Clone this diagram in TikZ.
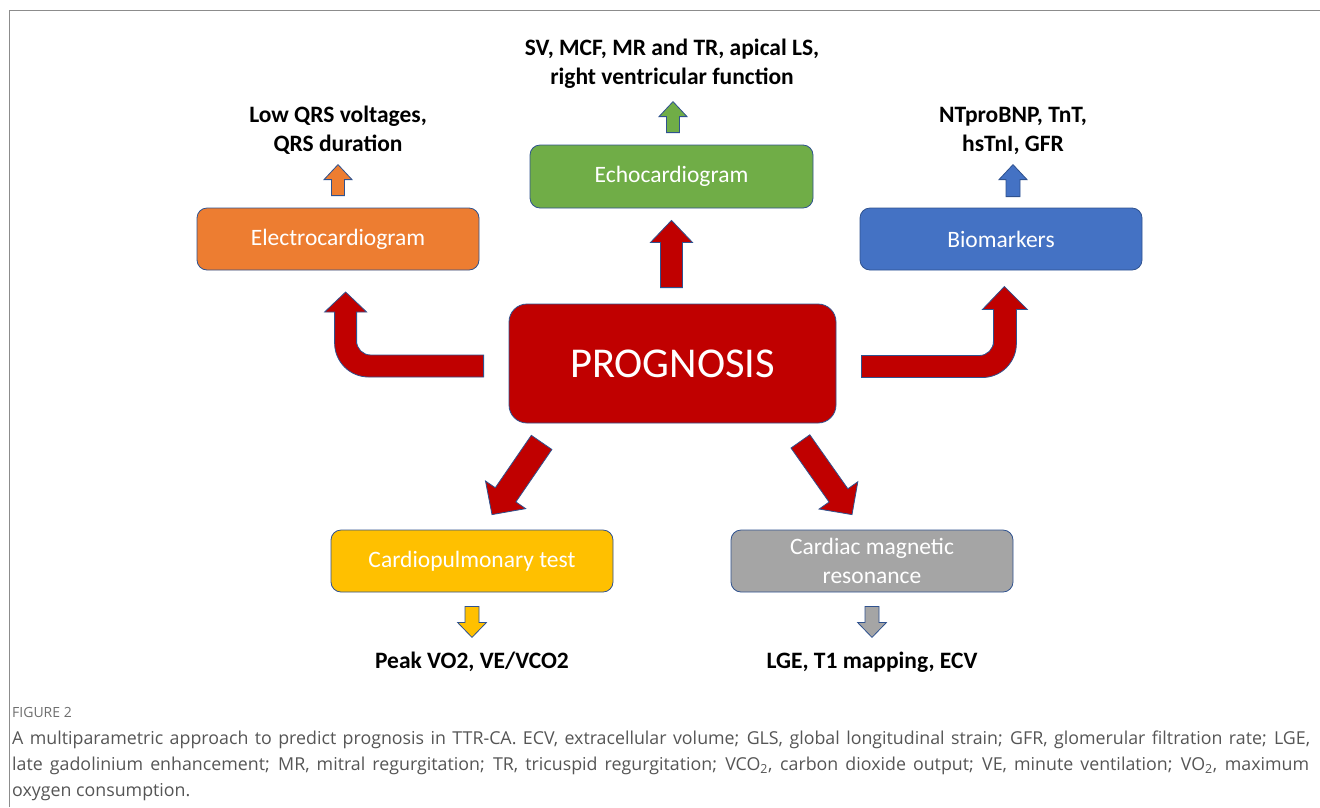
\documentclass[tikz,border=0pt]{standalone}
\usepackage{fontspec}
\setmainfont{Carlito}
\newfontfamily\capfont{Open Sans}
\usetikzlibrary{calc}
\usetikzlibrary{positioning}
\definecolor{edge}{HTML}{2F528F}
\definecolor{ecgorange}{HTML}{ED7D31}
\definecolor{echogreen}{HTML}{70AD47}
\definecolor{biomblue}{HTML}{4472C4}
\definecolor{progred}{HTML}{C00000}
\definecolor{cpetyellow}{HTML}{FFC000}
\definecolor{cmrgray}{HTML}{A5A5A5}
\definecolor{capgray}{HTML}{555555}
\definecolor{framegray}{HTML}{8C8C8C}
\tikzset{box/.style = {draw=edge, line width=0.8pt, rounded corners=10pt,
                       minimum width=282, minimum height=62, text=white,
                       font=\fontsize{23.5}{29}\selectfont, align=center}}
\tikzset{result/.style = {font=\bfseries\fontsize{23.5}{29}\selectfont, align=center}}
\tikzset{bigarrow/.style = {draw=edge, line width=0.8pt, fill=progred}}
\tikzset{smallarrow/.style = {draw=edge, line width=0.8pt}}
\tikzset{capline/.style = {anchor=base west, text=capgray, inner sep=0,
                           font=\capfont\fontsize{17.8}{26}\selectfont}}
% block arrow: style, from, to, half shaft, half head, head length
\newcommand\blockarrow[6]{%
  \coordinate (ba-s) at (#2);
  \coordinate (ba-e) at (#3);
  \coordinate (ba-h) at ($(ba-e)!#6!(ba-s)$);
  \draw[#1] ($(ba-s)!#4!90:(ba-e)$) -- ($(ba-h)!#4!-90:(ba-s)$)
    -- ($(ba-h)!#5!-90:(ba-s)$) -- (ba-e) -- ($(ba-h)!#5!90:(ba-s)$)
    -- ($(ba-h)!#4!90:(ba-s)$) -- ($(ba-s)!#4!-90:(ba-e)$) -- cycle;}

\begin{document}
\begin{tikzpicture}[x=1pt, y=-1pt]
  \useasboundingbox (0,0) rectangle (1320,807);
  \draw [framegray, line width=1pt] (9,807) -- (9,10) -- (1320,10);

  \node [box, fill=ecgorange] (ecg) at (338,239) {Electrocardiogram};
  \node [box, fill=echogreen, minimum width=283, minimum height=63] (echo) at (671.5,176.5) {Echocardiogram};
  \node [box, fill=biomblue] (biom) at (1001,239) {Biomarkers};
  \node [box, fill=progred, minimum width=327, minimum height=119, rounded corners=18pt,
         font=\fontsize{42.5}{50}\selectfont] (prog) at (672.5,363.5) {PROGNOSIS};
  \node [box, fill=cpetyellow] (cpet) at (472,561) {Cardiopulmonary test};
  \node [box, fill=cmrgray] (cmr) at (872,561) {Cardiac magnetic\\resonance};

  \node [result] (ecgres) at (338,130.5) {Low QRS voltages,\\QRS duration};
  \node [result] (echores) at (672,63.5) {SV, MCF, MR and TR, apical LS,\\right ventricular function};
  \node [result] (biomres) at (1013,130.5) {NTproBNP, TnT,\\hsTnI, GFR};
  \node [result] (cpetres) at (472,662) {Peak VO2, VE/VCO2};
  \node [result] (cmrres) at (872,662) {LGE, T1 mapping, ECV};

  % small arrows
  \blockarrow{smallarrow, fill=ecgorange}{[yshift=12pt]ecg.north}{[yshift=43pt]ecg.north}{6.5pt}{14pt}{15pt}
  \blockarrow{smallarrow, fill=echogreen}{[shift={(1.5pt,12pt)}]echo.north}{[shift={(1.5pt,43pt)}]echo.north}{6.5pt}{14pt}{15pt}
  \blockarrow{smallarrow, fill=biomblue}{[shift={(12pt,11pt)}]biom.north}{[shift={(12pt,43pt)}]biom.north}{7pt}{14pt}{15pt}
  \blockarrow{smallarrow, fill=cpetyellow}{[yshift=-14pt]cpet.south}{[yshift=-45pt]cpet.south}{7pt}{14.5pt}{15pt}
  \blockarrow{smallarrow, fill=cmrgray}{[yshift=-14pt]cmr.south}{[yshift=-45pt]cmr.south}{7pt}{14.5pt}{15pt}

  % red arrows from the prognosis box
  \blockarrow{bigarrow}{[shift={(-1pt,16pt)}]prog.north}{[yshift=-12pt]echo.south}{11pt}{21pt}{22pt}
  \blockarrow{bigarrow}{[shift={(33pt,-19pt)}]prog.south west}{[shift={(20pt,15pt)}]cpet.north}{12.5pt}{24.4pt}{24pt}
  \blockarrow{bigarrow}{[shift={(-36pt,-18pt)}]prog.south east}{[shift={(-20pt,15pt)}]cmr.north}{11.5pt}{23.7pt}{23.5pt}
  \draw [bigarrow] ([shift={(-25pt,-13.5pt)}]prog.west) -- ++(0,-22) -- ++(-64,0)
    [rounded corners=14pt] -- ++(-63,0) -- ++(0,-25)
    [sharp corners] -- ++(0,-18) -- ++(10,0) -- ++(-21,-20) -- ++(-21,20) -- ++(10,0) -- ++(0,28)
    [rounded corners=34pt] -- ++(0,37) -- ++(80,0)
    [sharp corners] -- cycle;
  \draw [bigarrow] ([shift={(25pt,-14pt)}]prog.east) -- ++(0,-22) -- ++(66,0)
    [rounded corners=14pt] -- ++(66,0) -- ++(0,-24)
    [sharp corners] -- ++(0,-22) -- ++(-11,0) -- ++(22,-23) -- ++(23,23) -- ++(-11,0) -- ++(0,30)
    [rounded corners=34pt] -- ++(0,38) -- ++(-80,0)
    [sharp corners] -- cycle;

  % caption
  \node [capline, font=\capfont\fontsize{14}{16}\selectfont, text=capgray!85] (fig) at (12,717) {FIGURE 2};
  \node [capline] (cap1) at (12,744) {\makebox[1298pt][s]{A multiparametric approach to predict prognosis in TTR-CA. ECV, extracellular volume; GLS, global longitudinal strain; GFR, glomerular filtration rate; LGE,}};
  \node [capline] (cap2) at (12,770) {\makebox[1297pt][s]{late gadolinium enhancement; MR, mitral regurgitation; TR, tricuspid regurgitation; VCO\textsubscript{2}, carbon dioxide output; VE, minute ventilation; VO\textsubscript{2}, maximum}};
  \node [capline] (cap3) at (12,796) {oxygen consumption.};
\end{tikzpicture}
\end{document}
